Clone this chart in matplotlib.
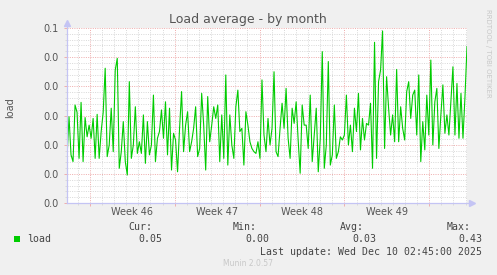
import matplotlib
matplotlib.use("Agg")
import matplotlib.pyplot as plt
import matplotlib.dates as mdates
from matplotlib.ticker import MultipleLocator, FormatStrFormatter, FixedLocator
from matplotlib.patches import Rectangle
import pandas as pd

# chart data
title = "Load average - by month"
y_label = "load"
series_name = "load"
start = "2025-11-07 02:45"
end = "2025-12-10 02:45"
week_starts = ["2025-11-09", "2025-11-16", "2025-11-23", "2025-11-30", "2025-12-07"]
week_labels = ["Week 46", "Week 47", "Week 48", "Week 49"]
stat_names = ["Cur:", "Min:", "Avg:", "Max:"]
stat_values = ["0.05", "0.00", "0.03", "0.43"]
last_update = "Last update: Wed Dec 10 02:45:00 2025"
footer = "Munin 2.0.57"
side_text = "RRDTOOL / TOBI OETIKER"

load = [
    0.0153, 0.0296, 0.0165, 0.0142, 0.0336, 0.0311, 0.0153, 0.0345, 0.0142, 0.0293,
    0.0227, 0.0267, 0.0222, 0.0290, 0.0153, 0.0304, 0.0153, 0.0245, 0.0311, 0.0462,
    0.0159, 0.0199, 0.0325, 0.0176, 0.0456, 0.0496, 0.0119, 0.0176, 0.0279, 0.0142,
    0.0096, 0.0416, 0.0153, 0.0199, 0.0330, 0.0170, 0.0210, 0.0170, 0.0302, 0.0136,
    0.0279, 0.0165, 0.0199, 0.0370, 0.0142, 0.0222, 0.0245, 0.0319, 0.0222, 0.0347,
    0.0165, 0.0325, 0.0113, 0.0239, 0.0216, 0.0107, 0.0256, 0.0382, 0.0176, 0.0267,
    0.0313, 0.0176, 0.0210, 0.0256, 0.0330, 0.0159, 0.0187, 0.0376, 0.0267, 0.0113,
    0.0365, 0.0210, 0.0267, 0.0330, 0.0290, 0.0336, 0.0142, 0.0302, 0.0153, 0.0439,
    0.0130, 0.0302, 0.0199, 0.0153, 0.0330, 0.0387, 0.0245, 0.0256, 0.0130, 0.0313,
    0.0267, 0.0210, 0.0187, 0.0176, 0.0170, 0.0210, 0.0153, 0.0422, 0.0233, 0.0176,
    0.0290, 0.0199, 0.0256, 0.0450, 0.0176, 0.0159, 0.0256, 0.0342, 0.0256, 0.0393,
    0.0222, 0.0153, 0.0325, 0.0273, 0.0347, 0.0216, 0.0102, 0.0336, 0.0267, 0.0267,
    0.0187, 0.0370, 0.0142, 0.0233, 0.0325, 0.0107, 0.0222, 0.0519, 0.0119, 0.0199,
    0.0485, 0.0130, 0.0165, 0.0336, 0.0153, 0.0176, 0.0227, 0.0216, 0.0233, 0.0370,
    0.0199, 0.0267, 0.0176, 0.0325, 0.0245, 0.0376, 0.0182, 0.0290, 0.0216, 0.0273,
    0.0267, 0.0342, 0.0119, 0.0551, 0.0153, 0.0416, 0.0456, 0.0590, 0.0187, 0.0433,
    0.0325, 0.0233, 0.0302, 0.0210, 0.0458, 0.0210, 0.0330, 0.0256, 0.0216, 0.0382,
    0.0416, 0.0290, 0.0370, 0.0387, 0.0233, 0.0439, 0.0142, 0.0279, 0.0182, 0.0370,
    0.0233, 0.0490, 0.0199, 0.0347, 0.0393, 0.0187, 0.0302, 0.0405, 0.0239, 0.0302,
    0.0233, 0.0347, 0.0467, 0.0233, 0.0410, 0.0222, 0.0376, 0.0222, 0.0365, 0.0536,
]

W, H = 497, 275
bg = "#F0F0F0"
text_col = "#555555"
major_col = "#EFB0B0"
minor_col = "#DADADA"
axis_col = "#C4C4F4"
dots = (0, (1, 1.3))

times = pd.date_range(start, end, periods=len(load))

fig = plt.figure(figsize=(W / 100, H / 100), dpi=100, facecolor=bg)
ax = fig.add_axes([67 / W, 72 / H, 400 / W, 175 / H])
ax.set_facecolor("white")

ax.plot(times, load, color="#00CC00", lw=0.8, zorder=3)

ax.set_xlim(pd.Timestamp(start), pd.Timestamp(end))
ax.set_ylim(0, 0.06)

# grid: day / week lines, fine and coarse load lines
ax.xaxis.set_major_locator(FixedLocator(mdates.date2num(pd.to_datetime(week_starts))))
ax.xaxis.set_minor_locator(mdates.DayLocator())
ax.yaxis.set_major_locator(MultipleLocator(0.01))
ax.yaxis.set_minor_locator(MultipleLocator(0.002))
ax.yaxis.set_major_formatter(FormatStrFormatter("%.1f"))
ax.set_xticklabels([])
ax.set_axisbelow(True)
ax.grid(which="minor", color=minor_col, linestyle=dots, lw=0.72)
ax.grid(which="major", color=major_col, linestyle=dots, lw=0.72)
ax.tick_params(which="major", color=major_col, length=2.2, width=0.72,
               labelsize=7, labelcolor=text_col, pad=3.5)
ax.tick_params(which="minor", color=minor_col, length=1.5, width=0.72)
for s in ax.spines.values():
    s.set_visible(False)

# axis lines with arrows
ax.plot([0, 0], [0, 1.02], transform=ax.transAxes, color=axis_col, lw=0.9, clip_on=False, zorder=4)
ax.plot(0, 1.03, marker="^", ms=4.5, color=axis_col, transform=ax.transAxes, clip_on=False, zorder=4)
ax.plot([0, 1.005], [0, 0], transform=ax.transAxes, color=axis_col, lw=0.9, clip_on=False, zorder=4)
ax.plot(1.012, 0, marker=">", ms=4.5, color=axis_col, transform=ax.transAxes, clip_on=False, zorder=4)

# week labels in the middle of each week
ws = pd.to_datetime(week_starts)
for i, lab in enumerate(week_labels):
    mid = ws[i] + (ws[i + 1] - ws[i]) / 2
    ax.text(mid, -0.05, lab, transform=ax.get_xaxis_transform(), ha="center", va="center",
            fontsize=7, color=text_col)

def px(x, y):
    return x / W, 1 - y / H

fig.text(*px(248, 19), title, ha="center", va="center", fontsize=9, color=text_col)
fig.text(*px(10, 108), y_label, ha="center", va="center", rotation=90, fontsize=7, color=text_col)
fig.text(*px(488, 53), side_text, ha="center", va="center", rotation=270, fontsize=5, color="#C8C8C8")

mono = dict(family="DejaVu Sans Mono", fontsize=7.1, color="#444444", va="center")
fig.patches.append(Rectangle(px(14, 242), 6 / W, 6 / H, transform=fig.transFigure,
                             facecolor="#00CC00", edgecolor="none"))
fig.text(*px(27, 239), series_name, ha="left", **mono)
name_x = [128, 233, 340, 447]
val_x = [162, 269, 376, 482]
for nm, vl, nx, vx in zip(stat_names, stat_values, name_x, val_x):
    fig.text(*px(nx, 227), nm, ha="left", **mono)
    fig.text(*px(vx, 239), vl, ha="right", **mono)
fig.text(*px(482, 252), last_update, ha="right", **mono)
fig.text(*px(248, 264), footer, ha="center", va="center", fontsize=5.5, color="#C8C8C8")

fig.savefig("out.png", dpi=100, facecolor=bg)
